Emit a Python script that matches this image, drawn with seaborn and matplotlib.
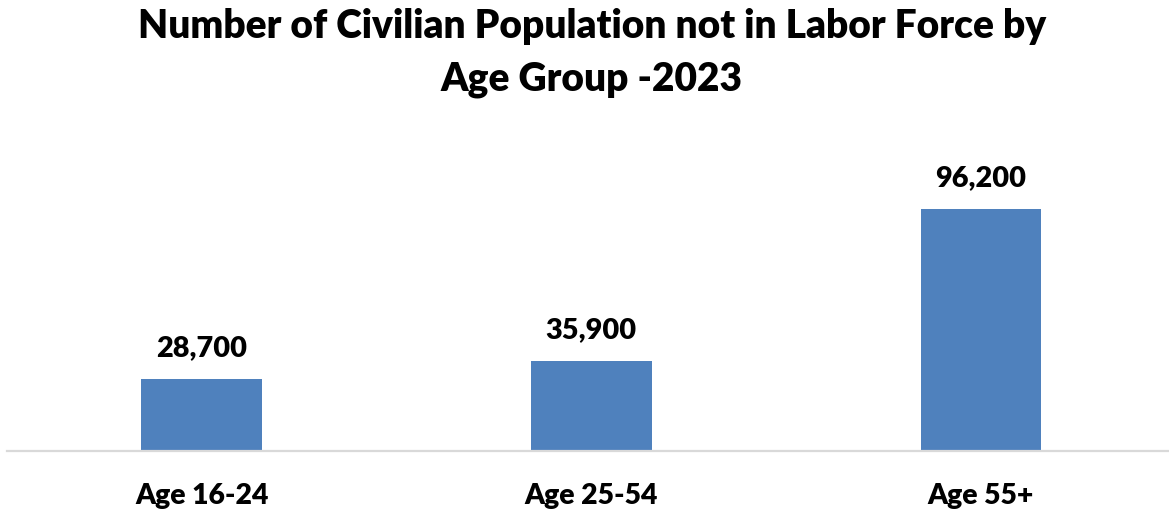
import matplotlib
matplotlib.use("Agg")
import matplotlib.pyplot as plt
import seaborn as sns
import pandas as pd

# Civilian population not in labor force, 2023
age_groups = ["Age 16-24", "Age 25-54", "Age 55+"]
not_in_labor_force = [28700, 35900, 96200]

title_text = "Number of Civilian Population not in Labor Force by\nAge Group -2023"
bar_color = "#4F81BD"

df = pd.DataFrame({"age_group": age_groups, "count": not_in_labor_force})

sns.set_theme(style="white")
plt.rcParams["font.family"] = ["Lato", "DejaVu Sans"]

fig = plt.figure(figsize=(11.69, 5.10), dpi=100)
ax = fig.add_axes([7 / 1169, 58 / 510, 1162 / 1169, 302 / 510])

sns.barplot(data=df, x="age_group", y="count", color=bar_color,
            width=0.31, saturation=1, ax=ax, edgecolor="none")

ax.set_xlim(-0.5, (1169 - 202) / 389.5)
ax.set_ylim(0, 120050)

for i, v in enumerate(not_in_labor_force):
    ax.annotate(f"{v:,}", xy=(i, v), xytext=(0, 23), textcoords="offset points",
                ha="center", va="center", fontsize=20.8, fontweight="heavy",
                color="#000000")

for side in ["top", "right", "left"]:
    ax.spines[side].set_visible(False)
ax.spines["bottom"].set_color("#D9D9D9")
ax.spines["bottom"].set_linewidth(1.6)

ax.set_yticks([])
ax.set_xlabel("")
ax.set_ylabel("")
ax.tick_params(axis="x", length=0, pad=22)
for lbl in ax.get_xticklabels():
    lbl.set_fontsize(20.4)
    lbl.set_fontweight("heavy")
    lbl.set_color("#000000")

fig.text(592 / 1169, 1 - 53 / 510, title_text, ha="center", va="center",
         fontsize=28.0, fontweight="heavy", linespacing=1.5, color="#000000")

fig.savefig("out.png", dpi=100)
